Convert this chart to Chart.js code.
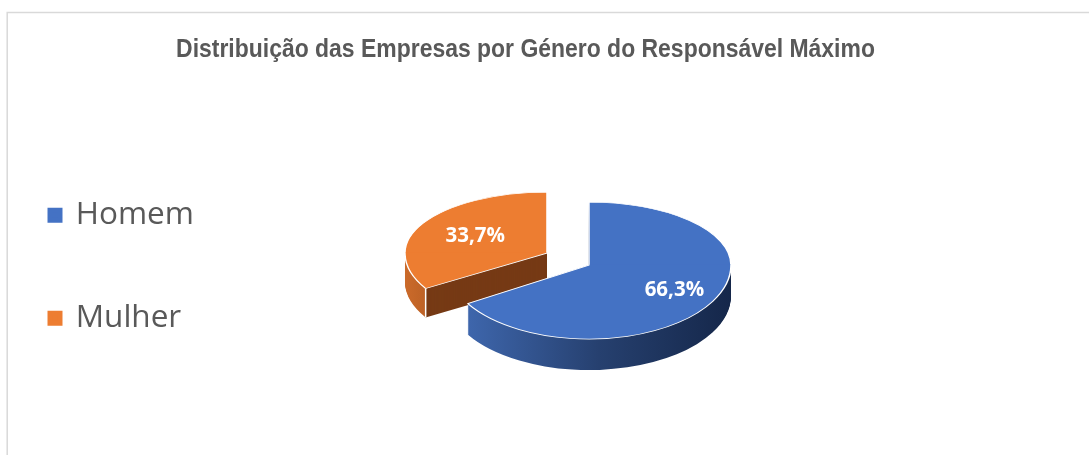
<!DOCTYPE html>
<html lang="pt">
<head>
<meta charset="utf-8">
<style>html,body{margin:0;padding:0;background:#fff}canvas{display:block}</style>
<script src="https://cdn.jsdelivr.net/npm/chart.js@4/dist/chart.umd.min.js"></script>
</head>
<body>
<canvas id="c" width="1089" height="455"></canvas>
<script>
const categories = ['Homem', 'Mulher'];
const values = [66.3, 33.7];
const sliceColors = ['#4472C4', '#ED7D31'];
const valueLabels = ['66,3%', '33,7%'];
const titleText = 'Distribuição das Empresas por Género do Responsável Máximo';

// 3D look
const squash = [{up: 63/142, low: 74/142, shift: [0, 0], depth: 31, labelFrac: 0.69},
                {up: 61/142, low: 68/142, shift: [-42, -12], depth: 29, labelFrac: 0.58}];
const titleCenterX = 525.5, titleSqueeze = 0.8826;

function face(ctx, chart, arc, s, dy, opts) {
  const p = Object.create(arc);
  p.options = Object.assign({}, arc.options, opts);
  const cx = arc.x + s.shift[0], cy = arc.y + s.shift[1] + dy;
  ctx.save();
  ctx.beginPath(); ctx.rect(0, 0, chart.width, cy + 0.25); ctx.clip();
  ctx.translate(cx, cy); ctx.scale(1, s.up); ctx.translate(-arc.x, -arc.y);
  p.draw(ctx);
  ctx.restore();
  ctx.save();
  ctx.beginPath(); ctx.rect(0, cy - 0.25, chart.width, chart.height); ctx.clip();
  ctx.translate(cx, cy); ctx.scale(1, s.low); ctx.translate(-arc.x, -arc.y);
  p.draw(ctx);
  ctx.restore();
}
function wall(ctx, chart, arc, s, fill, x0, x1) {
  ctx.save();
  ctx.beginPath(); ctx.rect(x0, 0, x1 - x0, chart.height); ctx.clip();
  for (let i = s.depth; i >= 1; i--) face(ctx, chart, arc, s, i, {backgroundColor: fill, borderWidth: 0});
  ctx.restore();
}
const pie3d = {
  id: 'pie3d',
  afterLayout(chart) {
    const t = chart.titleBlock, l = chart.legend;
    t.left = 2 * titleCenterX - t.right;
    l.left -= 21.5;
    l.top += 128;
    l.bottom += 128;
    if (!t._squeezed) {
      t._squeezed = true;
      const orig = t.draw;
      t.draw = function (area) {
        const c = chart.ctx;
        c.save();
        c.translate(titleCenterX, 0); c.scale(titleSqueeze, 1); c.translate(-titleCenterX, 0);
        orig.call(t, area);
        c.restore();
      };
    }
  },
  beforeDraw(chart) {
    const ctx = chart.ctx;
    ctx.save();
    ctx.fillStyle = '#fff'; ctx.fillRect(0, 0, chart.width, chart.height);
    ctx.strokeStyle = '#D9D9D9'; ctx.lineWidth = 1.5;
    ctx.beginPath(); ctx.moveTo(7.2, chart.height); ctx.lineTo(7.2, 12.5); ctx.lineTo(chart.width, 12.5); ctx.stroke();
    ctx.restore();
  },
  beforeDatasetDraw(chart, args) {
    const ctx = chart.ctx;
    const [blue, orange] = chart.getDatasetMeta(args.index).data;
    const sB = squash[0], sO = squash[1];
    const R = orange.outerRadius;
    const white = {borderColor: '#fff', borderWidth: 1.5, borderAlign: 'center'};

    // detached slice: outer wall, cut face, top
    const tipX = orange.x + R * Math.cos(orange.startAngle);
    const tipY = orange.y + sO.shift[1] + sO.low * R * Math.sin(orange.startAngle);
    const gO = ctx.createLinearGradient(orange.x - R, 0, tipX, 0);
    gO.addColorStop(0, '#CB6A2A'); gO.addColorStop(1, '#BD6226');
    wall(ctx, chart, orange, sO, gO, 0, tipX + sO.shift[0]);
    wall(ctx, chart, orange, sO, '#763A15', tipX + sO.shift[0], chart.width);
    face(ctx, chart, orange, sO, 0, white);
    ctx.save();
    ctx.strokeStyle = '#fff'; ctx.lineWidth = 1.5;
    ctx.beginPath();
    ctx.moveTo(tipX + sO.shift[0], tipY);
    ctx.lineTo(tipX + sO.shift[0], tipY + sO.depth);
    ctx.stroke();
    ctx.restore();

    // main slice
    const bTip = blue.x + R * Math.cos(blue.endAngle);
    const gB = ctx.createLinearGradient(bTip, 0, blue.x + R, 0);
    gB.addColorStop(0, '#3E66AC'); gB.addColorStop(0.5, '#26406F'); gB.addColorStop(1, '#15274A');
    wall(ctx, chart, blue, sB, gB, 0, chart.width);
    face(ctx, chart, blue, sB, 0, white);
    return false;
  },
  afterDatasetsDraw(chart) {
    const ctx = chart.ctx;
    const arcs = chart.getDatasetMeta(0).data;
    ctx.save();
    ctx.fillStyle = '#fff';
    ctx.font = 'bold 20.5px "Open Sans"';
    ctx.textAlign = 'center'; ctx.textBaseline = 'middle';
    arcs.forEach((a, i) => {
      const s = squash[i], mid = (a.startAngle + a.endAngle) / 2;
      const sy = Math.sin(mid);
      const x = a.x + s.shift[0] + Math.cos(mid) * a.outerRadius * s.labelFrac;
      const y = a.y + s.shift[1] + sy * a.outerRadius * s.labelFrac * (sy < 0 ? s.up : s.low);
      ctx.fillText(valueLabels[i], x, y);
    });
    ctx.restore();
  }
};

new Chart(document.getElementById('c'), {
  type: 'pie',
  data: {labels: categories, datasets: [{data: values, backgroundColor: sliceColors, borderWidth: 0}]},
  plugins: [pie3d],
  options: {
    responsive: false,
    animation: false,
    events: [],
    radius: 142,
    layout: {padding: {top: 0, left: 0, right: 136.5, bottom: 0}},
    plugins: {
      tooltip: {enabled: false},
      title: {
        display: true,
        text: titleText,
        color: '#595959',
        font: {family: '"Liberation Sans"', size: 26, weight: 'bold', lineHeight: 1.2},
        padding: {top: 34.5, bottom: 9.5}
      },
      legend: {
        position: 'left',
        align: 'start',
        labels: {
          color: '#595959',
          font: {family: '"Open Sans"', size: 31.5},
          boxWidth: 10,
          boxHeight: 10,
          padding: 71.5,
          generateLabels(chart) {
            return Chart.overrides.pie.plugins.legend.labels.generateLabels(chart).map(it => ({
              ...it, lineWidth: 5, strokeStyle: it.fillStyle
            }));
          }
        }
      }
    }
  }
});
</script>
</body>
</html>
